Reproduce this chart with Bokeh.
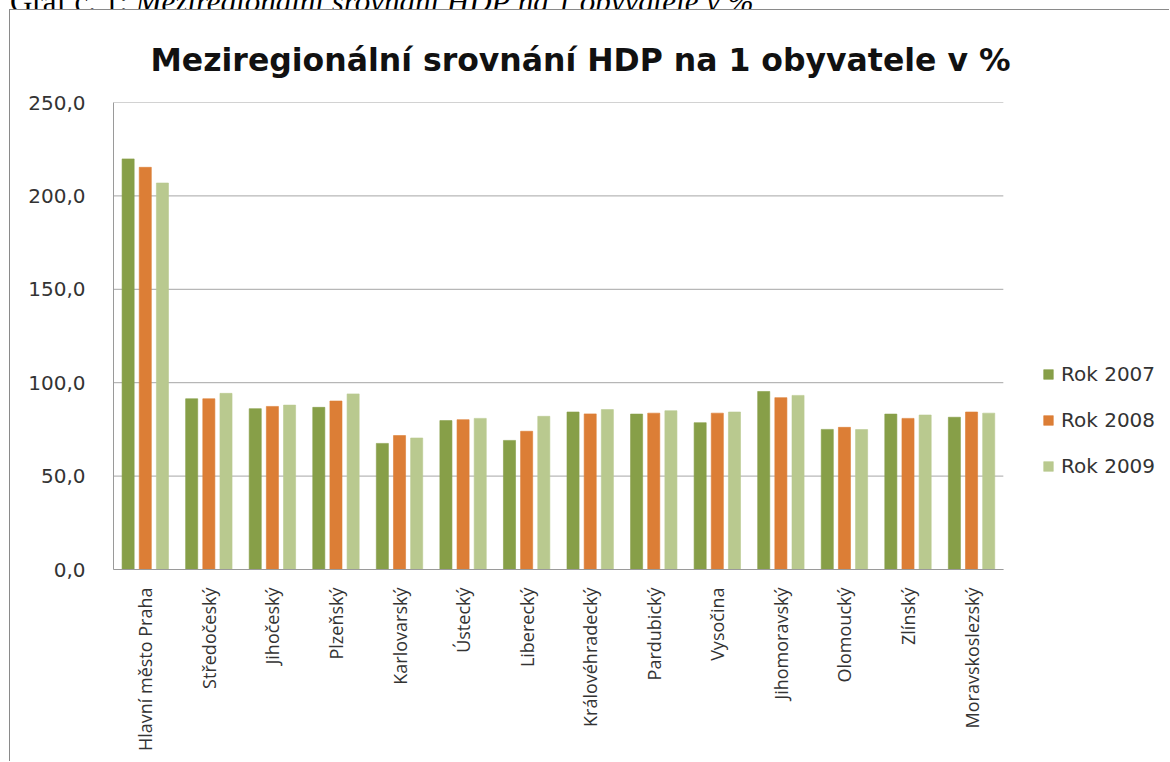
from bokeh.plotting import figure
from bokeh.layouts import column
from bokeh.models import (ColumnDataSource, FixedTicker, CustomJSTickFormatter, Legend, LegendItem,
                          Title, Range1d, Div)
from bokeh.transform import dodge
from bokeh.embed import file_html
from bokeh.resources import INLINE
from math import pi

regions = ["Hlavní město Praha", "Středočeský", "Jihočeský", "Plzeňský", "Karlovarský",
           "Ústecký", "Liberecký", "Královéhradecký", "Pardubický", "Vysočina",
           "Jihomoravský", "Olomoucký", "Zlínský", "Moravskoslezský"]
rok_2007 = [219.8, 91.4, 86.1, 86.8, 67.5, 79.7, 69.1, 84.3, 83.2, 78.6, 95.3, 75.0, 83.2, 81.5]
rok_2008 = [215.3, 91.4, 87.3, 90.2, 71.7, 80.2, 74.0, 83.3, 83.7, 83.7, 92.0, 76.1, 80.9, 84.3]
rok_2009 = [206.9, 94.3, 88.0, 94.0, 70.4, 80.9, 82.0, 85.6, 85.0, 84.3, 93.2, 74.9, 82.7, 83.7]
series_names = ["Rok 2007", "Rok 2008", "Rok 2009"]
y_ticks = [0, 50, 100, 150, 200, 250]
title_text = "Meziregionální srovnání HDP na 1 obyvatele v %"
caption_label = "Graf č. 1:"
caption_text = "Meziregionální srovnání HDP na 1 obyvatele v %"

colors = ["#879f48", "#dc7e36", "#b9c98f"]
FONT = "Open Sans"
WIDE = "DejaVu Sans"

n = len(regions)
pos = [i + 0.5 for i in range(n)]
src = ColumnDataSource(dict(x=pos, region=regions, r2007=rok_2007, r2008=rok_2008, r2009=rok_2009))

p = figure(x_range=Range1d(0, 16.63), y_range=Range1d(0, 250), width=1160, height=752,
           output_backend="svg", toolbar_location=None,
           min_border_left=103, min_border_right=0, min_border_top=92, min_border_bottom=193,
           styles={"border-left": "1px solid #8a8a8a", "border-top": "1px solid #8a8a8a",
                   "margin-left": "9px"})

# horizontal gridlines limited to the category area
p.segment(x0=[0] * len(y_ticks), x1=[n] * len(y_ticks), y0=y_ticks, y1=y_ticks,
          line_color="#a6a6a6", line_width=1)

items = []
for col, off, c, name in zip(["r2007", "r2008", "r2009"], [-0.27, 0.0, 0.27], colors, series_names):
    r = p.vbar(x=dodge("x", off), top=col, width=0.19, source=src,
               fill_color=c, line_color=c, line_alpha=0.6)
    items.append(LegendItem(label=name, renderers=[r]))

legend = Legend(items=items, location=(929, 91), orientation="vertical",
                label_text_font=WIDE, label_text_font_size="20px", label_text_color="#333333",
                glyph_width=12, glyph_height=12, label_height=18, spacing=22,
                label_standoff=7, padding=0, margin=0, border_line_alpha=0,
                background_fill_alpha=0)
p.add_layout(legend, "center")

p.title = Title(text=title_text, text_font=WIDE, text_font_style="bold", text_font_size="31.5px",
                text_color="#111111", align="left", offset=37, standoff=50)

p.yaxis.ticker = FixedTicker(ticks=y_ticks)
p.yaxis.formatter = CustomJSTickFormatter(code="return tick.toFixed(1).replace('.', ',');")
p.yaxis.major_label_text_font = WIDE
p.yaxis.major_label_text_font_size = "20px"
p.yaxis.major_label_text_color = "#333333"
p.yaxis.major_label_standoff = 22
p.yaxis.major_tick_line_color = None
p.yaxis.minor_tick_line_color = None
p.yaxis.axis_line_color = "#9a9a9a"

p.xaxis.ticker = FixedTicker(ticks=pos)
p.xaxis.major_label_overrides = {x: r for x, r in zip(pos, regions)}
p.xaxis.bounds = (0, n)
p.xaxis.major_label_orientation = pi / 2
p.xaxis.major_label_text_font = FONT
p.xaxis.major_label_text_font_size = "18px"
p.xaxis.major_label_text_color = "#333333"
p.xaxis.major_label_standoff = 12
p.xaxis.major_tick_line_color = None
p.xaxis.minor_tick_line_color = None
p.xaxis.axis_line_color = "#9a9a9a"

p.xgrid.grid_line_color = None
p.ygrid.grid_line_color = None
p.outline_line_color = None

caption = Div(
    text=('<div style="margin-top:-30px;margin-left:10px;font-family:\'Liberation Serif\';'
          'font-size:31px;line-height:31px;white-space:nowrap;color:#000;">'
          + caption_label + ' <i>' + caption_text + '</i></div>'),
    width=1170, height=9, margin=(0, 0, 0, 0), styles={"overflow": "hidden"})

layout = column(caption, p, spacing=0)
open("out.html", "w").write(file_html(layout, INLINE))
